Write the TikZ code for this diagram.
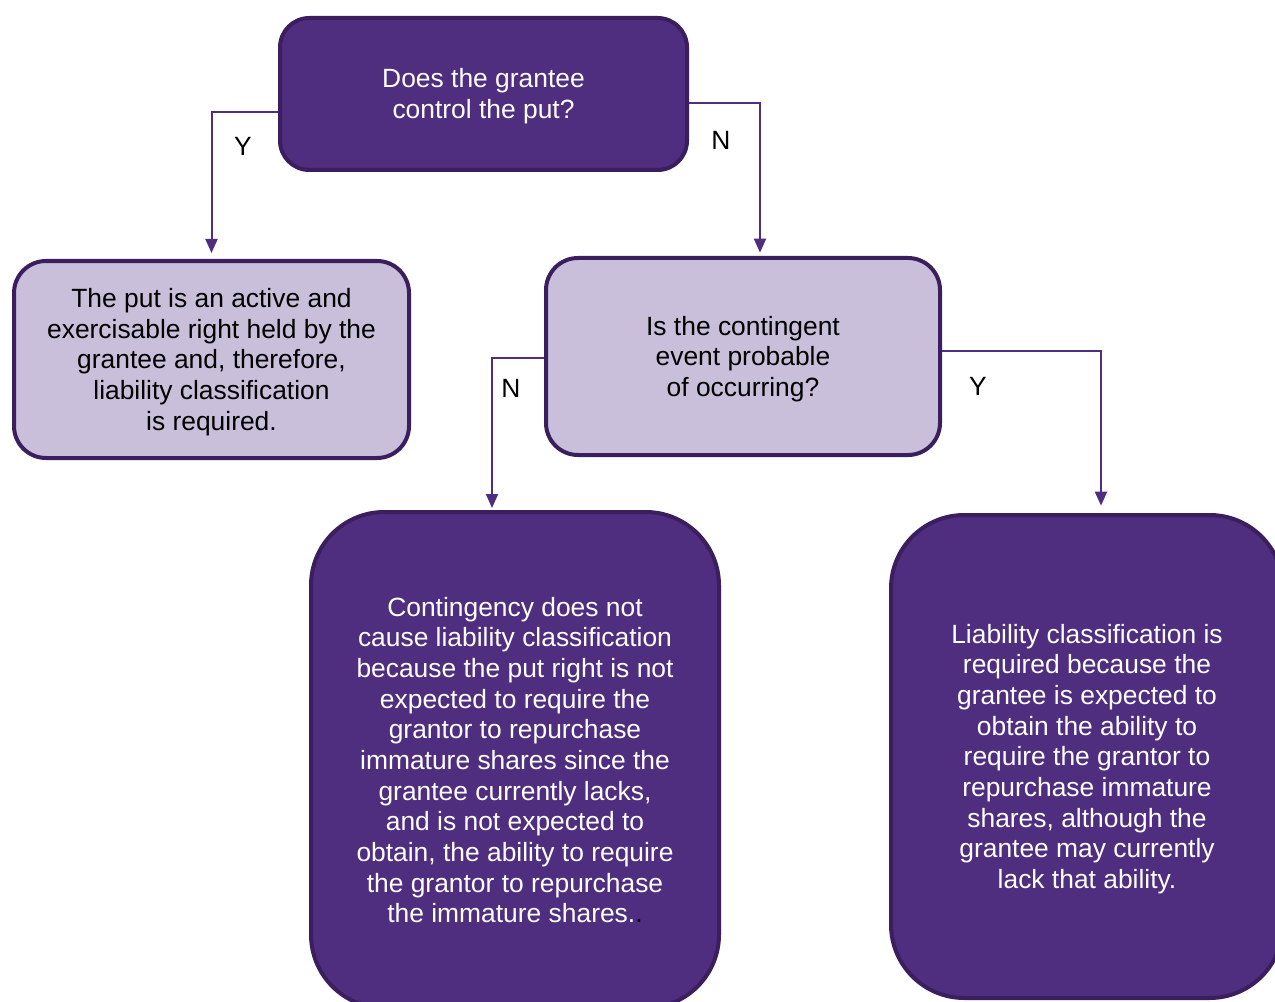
\documentclass[tikz,border=0pt]{standalone}
\usepackage{fontspec}
\setmainfont{Liberation Sans}
\usetikzlibrary{arrows.meta}
\definecolor{dpurple}{HTML}{4F2D7F}
\definecolor{bpurple}{HTML}{3A1E5E}
\definecolor{lpurple}{HTML}{C9BFDA}
\def\u{0.75pt}
\newcommand\tstrut{\rule{0pt}{18pt}}
\begin{document}
\begin{tikzpicture}[x=0.75pt,y=-0.75pt,
  every node/.style={font=\fontsize{19.8pt}{23pt}\selectfont},
  darkbox/.style={draw=bpurple, fill=dpurple, line width=3pt, text=white, align=center, inner sep=0pt},
  lightbox/.style={draw=bpurple, fill=lpurple, line width=3pt, text=black, align=center, inner sep=0pt},
  conn/.style={draw=dpurple, line width=1.5pt, -{Triangle[length=10.5pt,width=9pt]}},
  lbl/.style={text=black, inner sep=0pt}
]
\useasboundingbox (0,0) rectangle (1275,1002);
\clip (0,0) rectangle (1275,1002);

\node[darkbox, minimum width=407*\u, minimum height=152*\u, rounded corners=22pt] (top) at (483.5,94)
  {\tstrut Does the grantee\\ control the put?};
\node[lightbox, minimum width=395*\u, minimum height=197*\u, rounded corners=24pt] (left) at (211.5,359.5)
  {\tstrut The put is an active and\\exercisable right held by the\\grantee and, therefore,\\liability classification\\is required.};
\node[lightbox, minimum width=394*\u, minimum height=197*\u, rounded corners=24pt] (mid) at (743,356.5)
  {\tstrut Is the contingent\\event probable\\of occurring?};
\node[darkbox, minimum width=408*\u, minimum height=496*\u, rounded corners=55pt] (bl) at (515,760)
  {Contingency does not\\cause liability classification\\because the put right is not\\expected to require the\\grantor to repurchase\\immature shares since the\\grantee currently lacks,\\and is not expected to\\obtain, the ability to require\\the grantor to repurchase\\the immature shares.{\color{black}.}};
\node[darkbox, minimum width=392*\u, minimum height=483*\u, rounded corners=55pt] (br) at (1087,756.5)
  {\tstrut Liability classification is\\required because the\\grantee is expected to\\obtain the ability to\\require the grantor to\\repurchase immature\\shares, although the\\grantee may currently\\lack that ability.};

\coordinate (ytop) at ([yshift=-13.5pt]top.west);
\coordinate (ntop) at ([yshift=-6.75pt]top.east);
\coordinate (nmid) at ([yshift=-1.1pt]mid.west);
\coordinate (ymid) at ([yshift=4.1pt]mid.east);
\coordinate (midin) at ([xshift=12.75pt]mid.north);
\coordinate (blin) at ([xshift=-17.25pt]bl.north);
\coordinate (brin) at ([xshift=10.5pt]br.north);

\draw[conn, shorten >=4.5pt] (ytop) -| (left.north);
\draw[conn, shorten >=2.5pt] (ntop) -| (midin);
\draw[conn, shorten >=1.5pt] (nmid) -| (blin);
\draw[conn, shorten >=5.5pt] (ymid) -| (brin);

\node[lbl] (ly1) at (243,146) {Y};
\node[lbl] (ln1) at (721,140) {N};
\node[lbl] (ln2) at (511,388) {N};
\node[lbl] (ly2) at (978,386) {Y};
\end{tikzpicture}
\end{document}
